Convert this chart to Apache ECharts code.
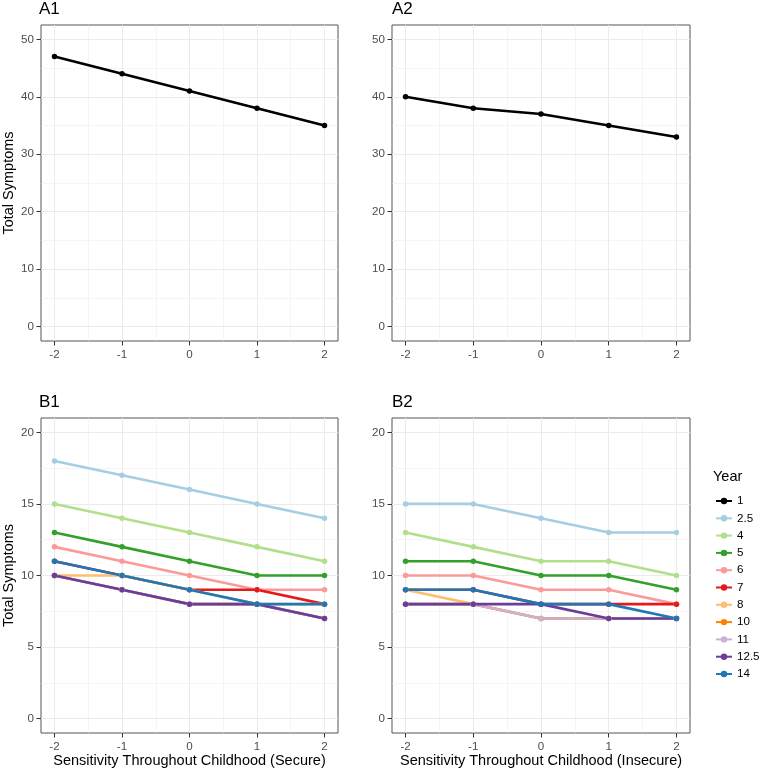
<!DOCTYPE html>
<html><head><meta charset="utf-8">
<script src="https://cdn.jsdelivr.net/npm/echarts@6/dist/echarts.min.js"></script>
<style>html,body{margin:0;padding:0;background:#fff}#c{width:762px;height:771px}</style>
</head><body><div id="c"></div>
<script>
// ---------- data ----------
const xValues = [-2, -1, 0, 1, 2];
const xTicks = [-2, -1, 0, 1, 2];
const xMinor = [-1.5, -0.5, 0.5, 1.5];
const yTicksA = [0, 10, 20, 30, 40, 50];
const yMinorA = [5, 15, 25, 35, 45];
const yTicksB = [0, 5, 10, 15, 20];
const yMinorB = [2.5, 7.5, 12.5, 17.5];
const years = ['1', '2.5', '4', '5', '6', '7', '8', '10', '11', '12.5', '14'];
const yearColors = ['#000000', '#A6CEE3', '#B2DF8A', '#33A02C', '#FB9A99', '#E31A1C', '#FDBF6F', '#FF7F00', '#CAB2D6', '#6A3D9A', '#1F78B4'];
const panelTitles = ['A1', 'A2', 'B1', 'B2'];
const xAxisTitles = ['', '', 'Sensitivity Throughout Childhood (Secure)', 'Sensitivity Throughout Childhood (Insecure)'];
const yAxisTitle = 'Total Symptoms';
const legendTitle = 'Year';

// Panel A1 (secure), year 1
const a1Year1 = [47, 44, 41, 38, 35];
// Panel A2 (insecure), year 1
const a2Year1 = [40, 38, 37, 35, 33];

// Panel B1 (secure)
const b1Year2_5 = [18, 17, 16, 15, 14];
const b1Year4 = [15, 14, 13, 12, 11];
const b1Year5 = [13, 12, 11, 10, 10];
const b1Year6 = [12, 11, 10, 9, 9];
const b1Year7 = [11, 10, 9, 9, 8];
const b1Year8 = [10, 10, 9, 8, 8];
const b1Year10 = [10, 9, 8, 8, 7];
const b1Year11 = [10, 9, 8, 8, 7];
const b1Year12_5 = [10, 9, 8, 8, 7];
const b1Year14 = [11, 10, 9, 8, 8];

// Panel B2 (insecure)
const b2Year2_5 = [15, 15, 14, 13, 13];
const b2Year4 = [13, 12, 11, 11, 10];
const b2Year5 = [11, 11, 10, 10, 9];
const b2Year6 = [10, 10, 9, 9, 8];
const b2Year7 = [9, 9, 8, 8, 8];
const b2Year8 = [9, 8, 7, 7, 7];
const b2Year10 = [8, 8, 7, 7, 7];
const b2Year11 = [8, 8, 7, 7, 7];
const b2Year12_5 = [8, 8, 8, 7, 7];
const b2Year14 = [9, 9, 8, 8, 7];

const panelA1 = [a1Year1];
const panelA2 = [a2Year1];
const panelB1 = [b1Year2_5, b1Year4, b1Year5, b1Year6, b1Year7, b1Year8, b1Year10, b1Year11, b1Year12_5, b1Year14];
const panelB2 = [b2Year2_5, b2Year4, b2Year5, b2Year6, b2Year7, b2Year8, b2Year10, b2Year11, b2Year12_5, b2Year14];

// ---------- layout ----------
const FONT = 'Liberation Sans, Arial, Helvetica, sans-serif';
const grids = [
  {left: 39, top: 25, width: 299, height: 316},
  {left: 392, top: 25, width: 298, height: 316},
  {left: 39, top: 418, width: 299, height: 315},
  {left: 392, top: 418, width: 298, height: 315}
];
const yRanges = [[-2.5, 52.5], [-2.5, 52.5], [-1, 21], [-1, 21]];
const yTickSets = [yTicksA, yTicksA, yTicksB, yTicksB];
const yMinorSets = [yMinorA, yMinorA, yMinorB, yMinorB];

const xAxes = [], yAxes = [];
grids.forEach((g, i) => {
  xAxes.push({
    type: 'value', gridIndex: i, min: -2.2, max: 2.2,
    axisLine: {show: false, onZero: false},
    axisTick: {show: true, customValues: xTicks, length: 4.5, lineStyle: {color: '#333333', width: 1}},
    axisLabel: {customValues: xTicks, color: '#4D4D4D', fontSize: 11.6, margin: 8, fontFamily: FONT},
    splitLine: {show: true, lineStyle: {color: '#EBEBEB', width: 1}},
    name: xAxisTitles[i], nameLocation: 'middle', nameGap: 20,
    nameTextStyle: {fontSize: 14.5, color: '#000', fontFamily: FONT}
  });
  yAxes.push({
    type: 'value', gridIndex: i, min: yRanges[i][0], max: yRanges[i][1],
    axisLine: {show: false, onZero: false},
    axisTick: {show: true, customValues: yTickSets[i], length: 4.5, lineStyle: {color: '#333333', width: 1}},
    axisLabel: {customValues: yTickSets[i], color: '#4D4D4D', fontSize: 11.6, margin: 7, fontFamily: FONT},
    splitLine: {show: true, lineStyle: {color: '#EBEBEB', width: 1}},
    name: (i % 2 === 0) ? yAxisTitle : '', nameLocation: 'middle', nameGap: 25, nameRotate: 90,
    nameTextStyle: {fontSize: 14.5, color: '#000', fontFamily: FONT}
  });
});
// minor grid axes
grids.forEach((g, i) => {
  xAxes.push({
    type: 'value', gridIndex: i, min: -2.2, max: 2.2,
    axisLine: {show: false, onZero: false},
    axisTick: {show: false, customValues: xMinor},
    axisLabel: {show: false, customValues: xMinor},
    splitLine: {show: true, lineStyle: {color: '#EBEBEB', width: 0.5}}
  });
  yAxes.push({
    type: 'value', gridIndex: i, min: yRanges[i][0], max: yRanges[i][1],
    axisLine: {show: false, onZero: false},
    axisTick: {show: false, customValues: yMinorSets[i]},
    axisLabel: {show: false, customValues: yMinorSets[i]},
    splitLine: {show: true, lineStyle: {color: '#EBEBEB', width: 0.5}}
  });
});

function mkSeries(name, values, gi) {
  const color = yearColors[years.indexOf(name)];
  return {
    type: 'line', name: name, xAxisIndex: gi, yAxisIndex: gi,
    data: xValues.map((x, k) => [x, values[k]]),
    symbol: 'circle', symbolSize: 5.5, showSymbol: true,
    lineStyle: {color: color, width: 2.6},
    itemStyle: {color: color},
    emphasis: {disabled: true}, silent: true, animation: false
  };
}

const series = [];
panelA1.forEach((v, k) => series.push(mkSeries(years[k], v, 0)));
panelA2.forEach((v, k) => series.push(mkSeries(years[k], v, 1)));
panelB1.forEach((v, k) => series.push(mkSeries(years[k + 1], v, 2)));
panelB2.forEach((v, k) => series.push(mkSeries(years[k + 1], v, 3)));

const titles = panelTitles.map((t, i) => ({
  text: t, left: grids[i].left, top: grids[i].top - 24, padding: 0,
  textStyle: {fontSize: 17, fontWeight: 'normal', color: '#000', fontFamily: FONT}
}));
titles.push({
  text: legendTitle, left: 713, top: 469, padding: 0,
  textStyle: {fontSize: 14.5, fontWeight: 'normal', color: '#000', fontFamily: FONT}
});

const chart = echarts.init(document.getElementById('c'), null, {renderer: 'canvas'});
chart.setOption({
  backgroundColor: '#fff',
  animation: false,
  title: titles,
  grid: grids.map(g => Object.assign({show: true, borderColor: '#555555', borderWidth: 1, backgroundColor: '#fff'}, g)),
  xAxis: xAxes,
  yAxis: yAxes,
  legend: {
    data: years, orient: 'vertical', left: 715, top: 494, padding: 0,
    itemWidth: 16, itemHeight: 8, itemGap: 3.3, selectedMode: false,
    textStyle: {fontSize: 11.6, color: '#000', fontFamily: FONT, lineHeight: 14}
  },
  series: series
});
</script></body></html>
